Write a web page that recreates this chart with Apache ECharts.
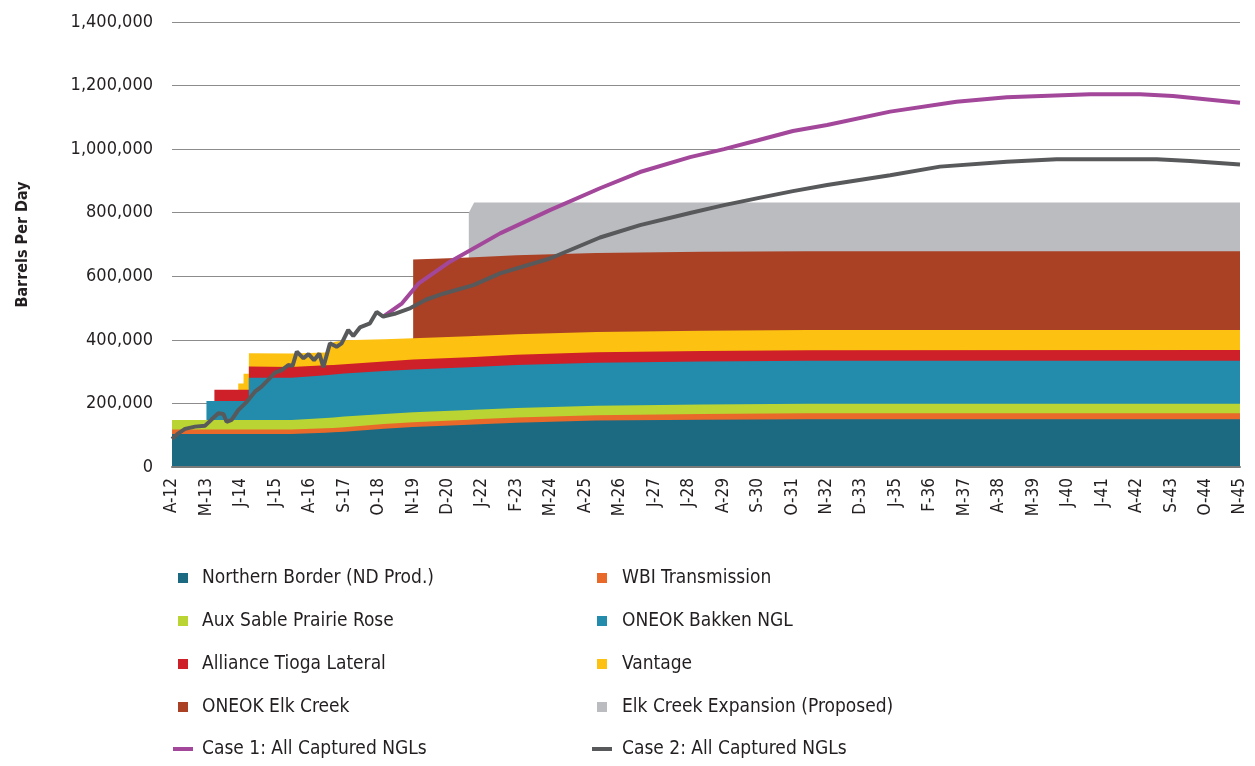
<!DOCTYPE html>
<html>
<head>
<meta charset="utf-8">
<script src="https://cdn.jsdelivr.net/npm/echarts@6/dist/echarts.min.js"></script>
<style>
  html, body { margin: 0; padding: 0; background: #fff; }
  #chart { width: 1255px; height: 766px; }
</style>
</head>
<body>
<div id="chart"></div>
<script>
const FONT = "'DejaVu Sans Condensed', 'DejaVu Sans', sans-serif";
const TEXT = "#231f20";

// month index 0 = Apr 2012, one label every 13 months
const xLabels = ["A-12", "M-13", "J-14", "J-15", "A-16", "S-17", "O-18", "N-19", "D-20", "J-22",
  "F-23", "M-24", "A-25", "M-26", "J-27", "J-28", "A-29", "S-30", "O-31", "N-32", "D-33", "J-35",
  "F-36", "M-37", "A-38", "M-39", "J-40", "J-41", "A-42", "S-43", "O-44", "N-45"];

// capacity breakpoints (month index), values in thousand bbl/d, 0 = not in service yet
const months =         [0, 13, 13, 16, 16, 25, 25, 27, 27, 29, 29, 45, 58, 61, 65, 80, 91, 91, 112, 112, 114, 130, 160, 200, 240, 403];
const northernBorder = [104, 104, 104, 104, 104, 104, 104, 104, 104, 104, 104, 104, 108, 109, 111, 120, 126, 126, 133, 133, 134, 139, 146, 149, 150, 150];
const wbi =            [14, 14, 14, 14, 14, 14, 14, 14, 14, 14, 14, 14, 14, 14, 14, 15, 15, 15, 16, 16, 16, 17, 17, 18, 19, 19];
const auxSable =       [30, 30, 30, 30, 30, 30, 30, 30, 30, 30, 30, 30, 32, 33, 34, 32, 31, 31, 30, 30, 30, 30, 30, 30, 30, 30];
const bakken =         [0, 0, 60, 60, 60, 60, 60, 60, 60, 60, 133, 133, 135, 135, 135, 135, 135, 135, 135, 135, 135, 135, 135, 135, 135, 135];
const alliance =       [0, 0, 0, 0, 35, 35, 35, 35, 35, 35, 35, 34, 31, 30, 29, 30, 31, 31, 31, 31, 31, 32, 33, 33, 33, 34];
const vantage =        [0, 0, 0, 0, 0, 0, 20, 20, 50, 50, 42, 42, 40, 72, 76, 70, 67, 67, 66, 66, 66, 65, 64, 64, 64, 63];
const elkCreek =       [0, 0, 0, 0, 0, 0, 0, 0, 0, 0, 0, 0, 0, 0, 0, 0, 0, 248, 248, 248, 248, 248, 248, 248, 248, 248];
const elkExpansion =   [0, 0, 0, 0, 0, 0, 0, 0, 0, 0, 0, 0, 0, 0, 0, 0, 0, 0, 0, 141, 172, 166, 159, 155, 153, 153];

const case2Months = [0, 2.4, 4.9, 8.7, 12.5, 15, 17.5, 19.4, 20.6, 22.5, 25, 28.2, 31.3, 33.8, 36.3, 38.9, 41.4,
  43.9, 45.5, 47.1, 49.6, 51.5, 53.6, 55.6, 57.1, 59.6, 62.1, 64, 66.5, 68.4, 70.9, 74.7, 77.2, 79.7,
  84, 90, 96, 102.6, 113.7, 123.8, 142.6, 161.5, 176.6, 195.5, 208.3, 221.1, 234.3, 247.2, 271, 289.8,
  315, 333.8, 371.6, 384.2, 403];
const case2 = [88, 106, 120, 127, 130, 150, 169, 167, 142, 148, 179, 205, 237, 253, 274, 297, 305,
  321, 318, 363, 342, 355, 336, 357, 314, 389, 378, 389, 431, 412, 439, 452, 488, 473,
  482, 500, 527, 546, 572, 609, 656, 722, 761, 799, 824, 846, 868, 887, 918, 945,
  960, 968, 968, 963, 952];

const case1Months = [79.7, 86.8, 93.1, 104.9, 123.8, 142.6, 161.5, 176.6, 195.5, 208.3, 221.1, 234.3,
  247.2, 271, 296, 315, 346.4, 365.3, 377.7, 403];
const case1 = [473, 515, 578, 646, 735, 808, 877, 928, 975, 1000, 1028, 1057,
  1076, 1118, 1149, 1163, 1173, 1173, 1167, 1146];

const layers = [
  { name: "Northern Border (ND Prod.)", values: northernBorder, color: "#1b6a82" },
  { name: "WBI Transmission", values: wbi, color: "#e8692a" },
  { name: "Aux Sable Prairie Rose", values: auxSable, color: "#b9d433" },
  { name: "ONEOK Bakken NGL", values: bakken, color: "#238bab" },
  { name: "Alliance Tioga Lateral", values: alliance, color: "#cd2029" },
  { name: "Vantage", values: vantage, color: "#fdc111" },
  { name: "ONEOK Elk Creek", values: elkCreek, color: "#aa4124" },
  { name: "Elk Creek Expansion (Proposed)", values: elkExpansion, color: "#bbbcc0" }
];

// echarts stacks the x dim when both axes are value axes, so stack here:
// each layer is drawn as its running total filled to zero, top layer first
const running = months.map(() => 0);
const areaSeries = layers.map(layer => {
  const data = months.map((m, i) => {
    running[i] += layer.values[i];
    return layer.values[i] === 0 ? [m, null] : [m, running[i] * 1000];
  });
  return {
    name: layer.name,
    type: "line",
    symbol: "none",
    lineStyle: { width: 0 },
    areaStyle: { color: layer.color, opacity: 1 },
    itemStyle: { color: layer.color },
    data: data,
    z: 2
  };
}).reverse();

function pairs(xs, ys) {
  return xs.map((x, i) => [x, ys[i] * 1000]);
}

function caseLine(name, xs, ys, color) {
  return {
    name: name,
    type: "line",
    symbol: "none",
    lineStyle: { width: 4, color: color },
    itemStyle: { color: color },
    data: pairs(xs, ys),
    z: 5
  };
}

const legendText = { fontFamily: FONT, fontSize: 19, color: TEXT, lineHeight: 22 };

function legendBlock(left, top, names, w, h, pad) {
  return {
    left: left, top: top, orient: "vertical",
    itemWidth: w, itemHeight: h, itemGap: 21,
    icon: "rect",
    selectedMode: false,
    textStyle: Object.assign({ padding: [0, 0, 0, pad] }, legendText),
    data: names
  };
}

const chart = echarts.init(document.getElementById("chart"));
chart.setOption({
  animation: false,
  grid: { left: 172, right: 15, top: 22, bottom: 299, containLabel: false, outerBoundsMode: "none" },
  xAxis: {
    type: "value",
    min: 0, max: 403, interval: 13,
    z: 3,
    axisLine: { lineStyle: { color: "#7a7a7a", width: 2 } },
    axisTick: { show: false },
    splitLine: { show: false },
    axisLabel: {
      rotate: 90, margin: 11,
      fontFamily: FONT, fontSize: 17, color: TEXT,
      showMinLabel: true, showMaxLabel: true,
      formatter: v => xLabels[Math.round(v / 13)] || ""
    }
  },
  yAxis: {
    type: "value",
    min: 0, max: 1400000, interval: 200000,
    name: "Barrels Per Day",
    nameLocation: "middle", nameGap: 141, nameRotate: 90,
    nameTextStyle: { fontFamily: FONT, fontSize: 16, fontWeight: "bold", color: TEXT },
    axisLine: { show: false },
    axisTick: { show: false },
    splitLine: { lineStyle: { color: "#8c8c8c", width: 1 } },
    axisLabel: {
      margin: 19, fontFamily: FONT, fontSize: 18, color: TEXT,
      formatter: v => v.toLocaleString("en-US")
    }
  },
  legend: [
    legendBlock(173, 562, ["Northern Border (ND Prod.)", "Aux Sable Prairie Rose", "Alliance Tioga Lateral", "ONEOK Elk Creek"], 10, 10, 9),
    legendBlock(168, 733, ["Case 1: All Captured NGLs"], 20, 4, 4),
    legendBlock(592, 562, ["WBI Transmission", "ONEOK Bakken NGL", "Vantage", "Elk Creek Expansion (Proposed)"], 10, 10, 10),
    legendBlock(587, 733, ["Case 2: All Captured NGLs"], 20, 4, 5)
  ],
  series: areaSeries.concat([
    caseLine("Case 1: All Captured NGLs", case1Months, case1, "#a3479b"),
    caseLine("Case 2: All Captured NGLs", case2Months, case2, "#58595b")
  ])
});
</script>
</body>
</html>
